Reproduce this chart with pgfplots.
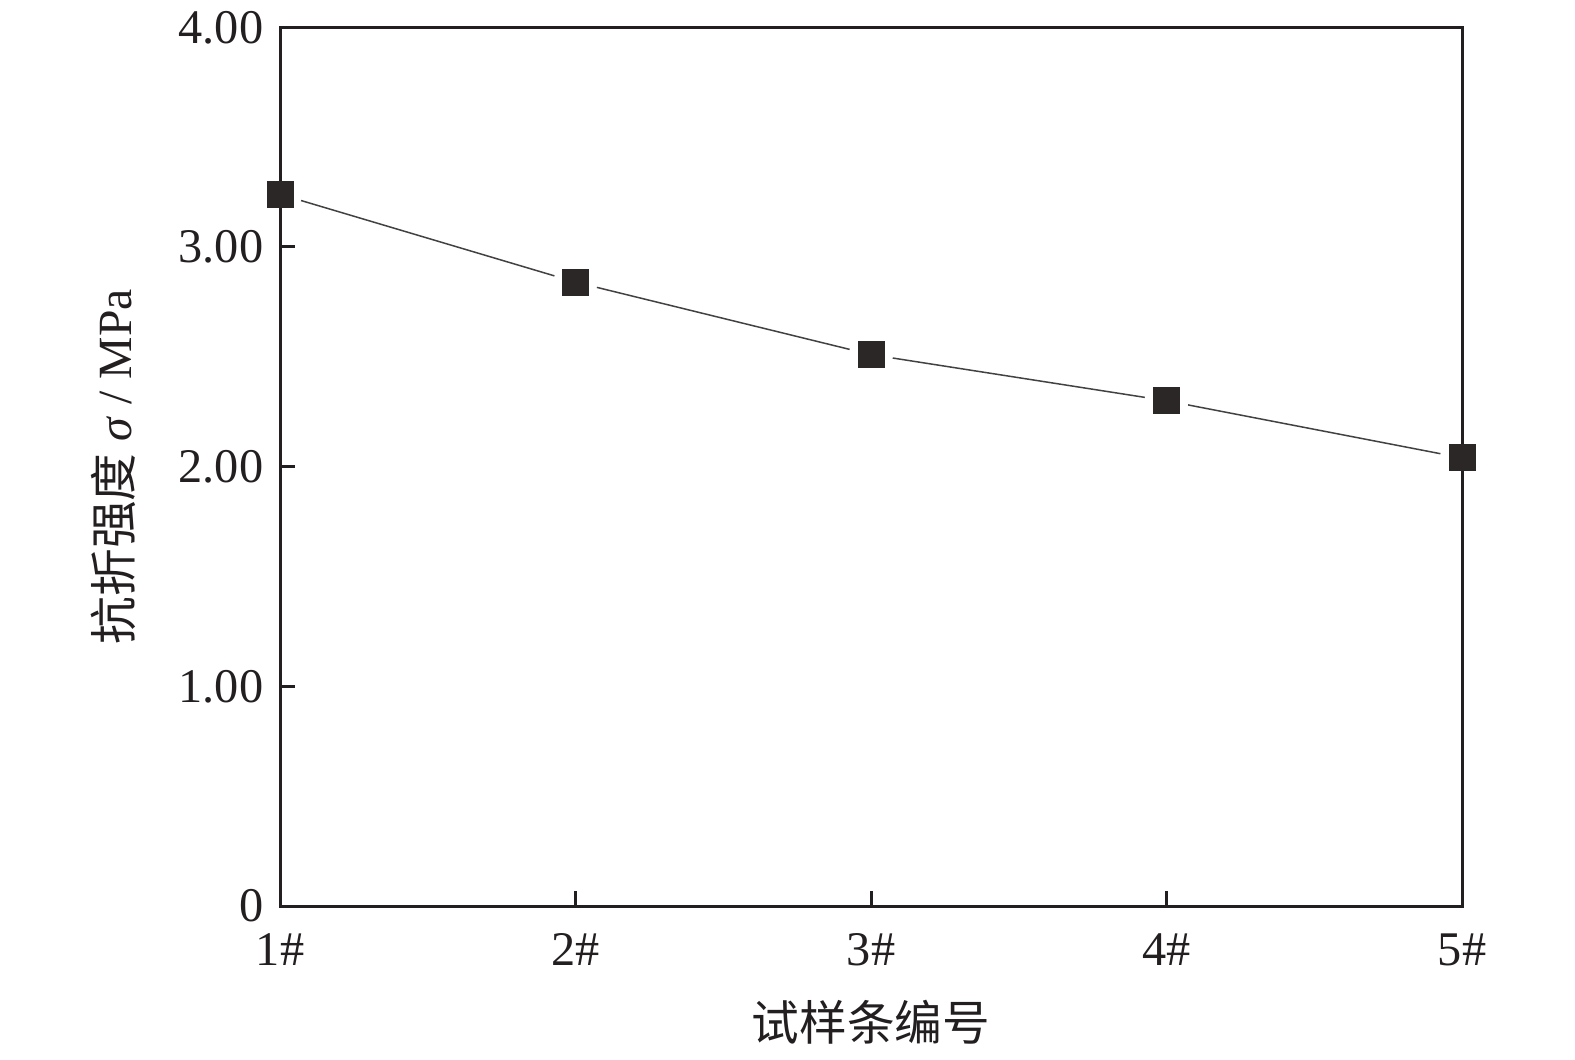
\documentclass[border=0pt]{standalone}
\usepackage{pgfplots}
\pgfplotsset{compat=1.18}
\usepackage{fontspec}
\setmainfont{Liberation Serif}
\newfontfamily\cjk{Noto Sans CJK SC}
\definecolor{ink}{HTML}{231F20}
\definecolor{mk}{HTML}{2B2727}
\begin{document}
\begin{tikzpicture}
\path[use as bounding box] (-84pt,-45.9pt) rectangle (388.5pt,271.8pt);
\begin{axis}[
  at={(0,0)}, anchor=south west,
  scale only axis, width=354.6pt, height=263.6pt,
  xmin=1, xmax=5, ymin=0, ymax=4,
  xtick={1,2,3,4,5}, xticklabels={1\#,2\#,3\#,4\#,5\#},
  ytick={0,1,2,3,4}, yticklabels={0,1.00,2.00,3.00,4.00},
  tick align=inside, xtick pos=bottom, ytick pos=left,
  major tick length=4.5pt,
  axis line style={line width=0.9pt, ink},
  every tick/.style={line width=0.9pt, ink},
  tick label style={font=\fontsize{14.5}{16}\selectfont, text=ink},
  xticklabel style={yshift=-4.8pt},
  yticklabel style={xshift=-1.5pt},
  /pgf/number format/assume math mode=true,
  axis on top,
  xlabel={\cjk 试样条编号},
  ylabel={{\cjk 抗折强度} \textit{σ} / MPa},
  label style={font=\fontsize{14.3}{16}\selectfont, text=ink},
  xlabel style={at={(axis description cs:0.5,-0.132)}, anchor=center},
  ylabel style={at={(axis description cs:-0.141,0.5)}, anchor=center},
  clip=false,
]
\pgfplotsset{seg/.style={color=ink!85, line width=0.45pt, mark=none, shorten <=6.6pt, shorten >=6.6pt}}
\addplot[seg] coordinates {(1,3.24) (2,2.84)};
\addplot[seg] coordinates {(2,2.84) (3,2.51)};
\addplot[seg] coordinates {(3,2.51) (4,2.30)};
\addplot[seg] coordinates {(4,2.30) (5,2.04)};
\addplot[mk, only marks, mark=square*, mark size=3.9pt, mark options={fill=mk, draw=mk, line width=0pt}] coordinates {(1,3.24) (2,2.84) (3,2.51) (4,2.30) (5,2.04)};
\end{axis}
\end{tikzpicture}
\end{document}
